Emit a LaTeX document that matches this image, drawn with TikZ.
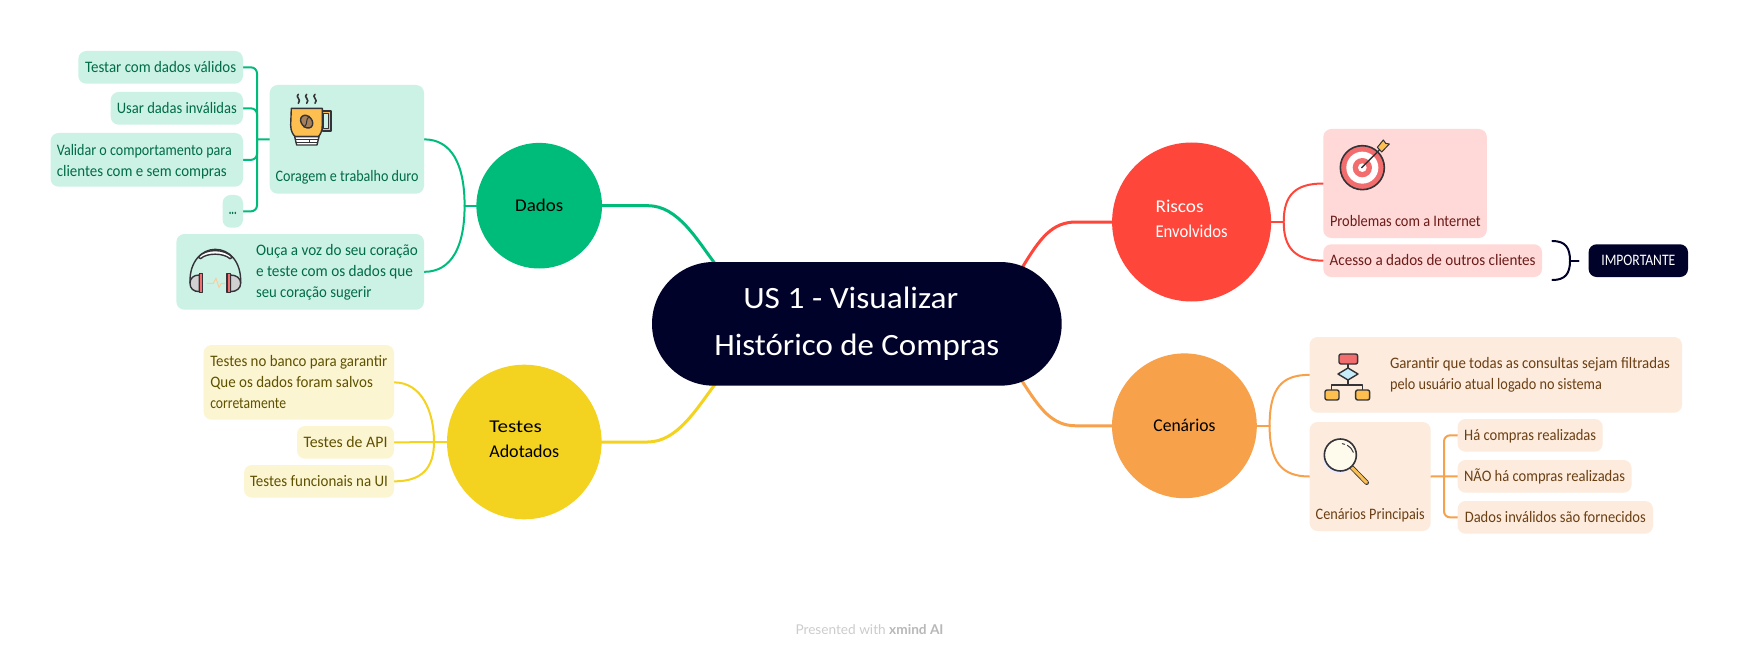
\documentclass[tikz,border=0pt]{standalone}
\usepackage{fontspec}
\usepackage{graphicx}
\setmainfont{Carlito}
\newfontfamily\footfont{Lato}
\usetikzlibrary{backgrounds}
\definecolor{navy}{HTML}{000229}
\definecolor{grn}{HTML}{00BC7B}
\definecolor{grnL}{HTML}{CCF2E5}
\definecolor{grnT}{HTML}{006B46}
\definecolor{yel}{HTML}{F3D31F}
\definecolor{yelL}{HTML}{FCF5D2}
\definecolor{yelT}{HTML}{5E5100}
\definecolor{red1}{HTML}{FF463B}
\definecolor{redL}{HTML}{FFD9D8}
\definecolor{redT}{HTML}{6B1B18}
\definecolor{ora}{HTML}{F7A14B}
\definecolor{oraL}{HTML}{FDECDD}
\definecolor{oraT}{HTML}{6B3F14}
\definecolor{ink}{HTML}{333338}
\definecolor{mugO}{HTML}{FDBF50}
\definecolor{pink1}{HTML}{F26D6D}
\newcommand\tw[2]{\resizebox{#1pt}{\height}{\spaceskip=0pt \xspaceskip=0pt #2}}
\newcommand\bx[7][]{\node[#2,#1,minimum width={(#6-#4)*1pt},minimum height={(#7-#5)*1pt}] (#3) at ({(#4+#6)/2},{(#5+#7)/2})}
\tikzset{
  tbox/.style={rectangle,rounded corners=8pt,inner sep=0pt,outer sep=0pt,text height=13pt,text depth=3pt,font=\fontsize{16}{21}\selectfont},
  gbox/.style={tbox,fill=grnL,text=grnT},
  ybox/.style={tbox,fill=yelL,text=yelT},
  rbox/.style={tbox,fill=redL,text=redT},
  obox/.style={tbox,fill=oraL,text=oraT},
  multi/.style={text height=,text depth=,align=left},
  lbl/.style={inner sep=0pt,outer sep=0pt,font=\fontsize{16}{21}\selectfont},
  topic/.style={circle,inner sep=0pt,outer sep=0pt,align=left,font=\fontsize{18}{25.5}\selectfont},
  rootbox/.style={rectangle,rounded corners=61.8pt,fill=navy,text=white,inner sep=0pt,outer sep=0pt,align=left,font=\fontsize{31}{47}\selectfont},
  main/.style={line width=3pt,line cap=round},
  sub/.style={line width=2pt,line cap=round},
  bent/.style={line width=2pt,rounded corners=6pt,line cap=round},
  ico/.style={draw=ink,line width=1.4pt,line join=round},
  icoline/.style={ink,line width=1.4pt,line cap=round,line join=round},
}
\begin{document}
\begin{tikzpicture}[x=1pt,y=-1pt]
\useasboundingbox (0,0) rectangle (1739,655);

% root and main topics
\node[rootbox,minimum width=409.7pt,minimum height=123.7pt] (root) at (856.85,323.85)
  {\hspace*{29pt}\tw{215}{US 1 - Visualizar}\\\tw{285}{Histórico de Compras}};
\node[topic,fill=grn,minimum size=125.6pt] (dados) at (539.2,205.7) {\tw{48}{Dados}};
\node[topic,fill=yel,minimum size=154.6pt] (testes) at (524.3,442) {\tw{52.4}{Testes}\\\tw{70}{Adotados}\rule[-6pt]{0pt}{0pt}};
\node[topic,fill=red1,text=white,minimum size=159pt] (riscos) at (1191.6,222) {\tw{48}{Riscos}\\\tw{72}{Envolvidos}\rule[-6pt]{0pt}{0pt}};
\node[topic,fill=ora,minimum size=144.8pt] (cenarios) at (1184.4,425.8) {\tw{62}{Cenários}};

% green branch
\bx{gbox}{testar}{78.3}{51}{243}{83.7} {\tw{151}{Testar com dados válidos}};
\bx{gbox}{usar}{110.7}{92}{243}{124.7} {\tw{120}{Usar dadas inválidas}};
\bx[multi,text width=180pt]{gbox}{validar}{50.6}{133}{243}{186.7} {\rule{0pt}{14pt}\tw{175}{Validar o comportamento para}\\\tw{170}{clientes com e sem compras}};
\bx{gbox}{dots}{222.6}{195}{243}{227.7} {\raisebox{2pt}{\tw{8}{\textbf{...}}}};
\bx{gbox}{coragem}{269.7}{85}{424}{193.7} {};
\node[lbl,text=grnT,anchor=base west] (coragemT) at (275.6,182) {\tw{143}{Coragem e trabalho duro}};
\bx{gbox}{fones}{176.4}{234}{424}{309.7} {};
\node[lbl,text=grnT,align=left,anchor=west] (fonesT) at (256,272) {\tw{162}{Ouça a voz do seu coração}\\\tw{157}{e teste com os dados que}\\\tw{115.6}{seu coração sugerir}};

% yellow branch
\bx[multi,text width=177pt]{ybox}{banco}{203.6}{345}{394}{419.7} {\tw{177}{Testes no banco para garantir}\\\tw{162.6}{Que os dados foram salvos}\\\tw{75.8}{corretamente}};
\bx{ybox}{api}{297}{426}{394}{458.7} {\tw{84}{Testes de API}};
\bx{ybox}{func}{244}{465}{394}{497.7} {\tw{138}{Testes funcionais na UI}};

% red branch
\bx{rbox}{internet}{1323.3}{129}{1486.8}{238} {};
\node[lbl,text=redT,anchor=base west] (internetT) at (1330,226) {\tw{150.7}{Problemas com a Internet}};
\bx{rbox}{acesso}{1323.3}{244.3}{1542}{277} {\tw{206}{Acesso a dados de outros clientes}};
\node[rectangle,rounded corners=8pt,fill=navy,text=white,inner sep=0pt,outer sep=0pt,minimum width=99.4pt,minimum height=32.7pt,text height=13pt,text depth=3pt,font=\fontsize{16}{21}\selectfont] (importante) at (1638.3,260.65) {\tw{74}{IMPORTANTE}};

% orange branch
\bx{obox}{garantir}{1309.6}{337}{1682}{412.7} {};
\node[lbl,text=oraT,align=left,anchor=west] (garantirT) at (1390,375) {\tw{280}{Garantir que todas as consultas sejam filtradas}\\\tw{212}{pelo usuário atual logado no sistema}};
\bx{obox}{principais}{1309.6}{422}{1430.7}{531} {};
\node[lbl,text=oraT,anchor=base west] (principaisT) at (1315.7,519) {\tw{109}{Cenários Principais}};
\bx{obox}{ha}{1457.6}{419}{1602.7}{451.7} {\tw{132}{Há compras realizadas}};
\bx{obox}{nao}{1457.6}{460}{1631.5}{492.7} {\tw{161}{NÃO há compras realizadas}};
\bx{obox}{invalidos}{1457.6}{501}{1653}{533.7} {\tw{181}{Dados inválidos são fornecidos}};

% footer
\node[inner sep=0pt,text=black!20,font=\footfont\fontsize{13.5}{16}\selectfont] (rodape) at (869.5,630) {\tw{148}{Presented with \textcolor{black!28}{\textbf{xmind AI}}}};

% free ends of connectors
\coordinate (rootNW) at (716,265);
\coordinate (rootSW) at (716,383);
\coordinate (rootNE) at (1022,268);
\coordinate (rootSE) at (1022,381);
\coordinate (jG) at (464.6,205.7);
\coordinate (jCor) at (257,139.35);
\coordinate (jY) at (434,442);
\coordinate (jR) at (1283.7,222);
\coordinate (jO) at (1269.6,425.8);
\coordinate (jPri) at (1444,476.5);
\coordinate (brTop) at (1552.3,241);
\coordinate (brMid) at (1570,260.65);
\coordinate (brBot) at (1552.3,280);
\coordinate (brEnd) at (1578.7,260.65);

\begin{scope}[on background layer]
  \fill[white] (0,0) rectangle (1739,655);
  % main branches
  \draw[main,grn] (dados.east) -- ++(46,0) .. controls +(30,0) and (697,240) .. (rootNW);
  \draw[main,yel] (testes.east) -- ++(46,0) .. controls +(30,0) and (697,408) .. (rootSW);
  \draw[main,red1] (riscos.west) -- ++(-36,0) .. controls +(-24,0) and (1040,238) .. (rootNE);
  \draw[main,ora] (cenarios.west) -- ++(-36,0) .. controls +(-24,0) and (1040,409) .. (rootSE);
  % green children
  \draw[sub,grn] (dados.west) -- (jG);
  \draw[sub,grn] (coragem.east) .. controls +(28,0) and (464.6,165) .. (jG);
  \draw[sub,grn] (fones.east) .. controls +(28,0) and (464.6,246) .. (jG);
  \draw[bent,grn] (testar.east) -| (jCor) |- (dots.east);
  \draw[bent,grn] (usar.east) -| (jCor);
  \draw[bent,grn] (validar.east) -| (jCor);
  \draw[sub,grn] (coragem.west) -- (jCor);
  % yellow children
  \draw[sub,yel] (testes.west) -- (api.east);
  \draw[sub,yel] (banco.east) .. controls +(28,0) and (434,412) .. (jY);
  \draw[sub,yel] (func.east) .. controls +(28,0) and (434,468) .. (jY);
  % red children
  \draw[sub,red1] (riscos.east) -- (jR);
  \draw[sub,red1] (internet.west) .. controls +(-28,0) and (1283.7,195) .. (jR);
  \draw[sub,red1] (acesso.west) .. controls +(-28,0) and (1283.7,248) .. (jR);
  % orange children
  \draw[sub,ora] (cenarios.east) -- (jO);
  \draw[sub,ora] (garantir.west) .. controls +(-28,0) and (1269.6,388) .. (jO);
  \draw[sub,ora] (principais.west) .. controls +(-28,0) and (1269.6,462) .. (jO);
  \draw[bent,ora] (ha.west) -| (jPri) |- (invalidos.west);
  \draw[sub,ora] (principais.east) -- (nao.west);
  % summary brace
  \draw[sub,navy] (brTop) .. controls +(13,0) and +(0,-13) .. (brMid) .. controls +(0,13) and +(13,0) .. (brBot);
  \draw[sub,navy] (brMid) -- (brEnd);
\end{scope}

% coffee icon
\begin{scope}[shift={(270,85)},x=0.3333pt,y=-0.3333pt]
  \filldraw[ico,fill=mugO] (157,78) -- (183,78) -- (183,138) -- (157,138) -- cycle;
  \filldraw[ico,fill=grnL] (160,86) -- (175,86) -- (175,130) -- (160,130) -- cycle;
  \filldraw[ico,fill=mugO] (64,70) -- (157,70) -- (157,120) .. controls (157,140) and (150,150) .. (145,155) -- (76,155) .. controls (70,150) and (62,140) .. (62,120) -- cycle;
  \filldraw[ico,fill=white] (74,155) -- (147,155) -- (141,180) -- (80,180) -- cycle;
  \draw[icoline,line width=1pt] (76,164) -- (145,164) (78,172) -- (143,172) (118,164) -- (118,172);
  \filldraw[ico,fill=brown!75!black!80,rotate around={40:(110,110)}] (110,110) ellipse [x radius=16,y radius=21];
  \draw[icoline,line width=1pt] (118,94) .. controls (104,105) and (116,115) .. (102,127);
  \foreach \sx in {85,110,135}{
    \draw[icoline,line width=1.6pt] (\sx,28) .. controls (\sx-12,35) and (\sx+12,44) .. (\sx,55);
  }
\end{scope}

% headphones icon
\begin{scope}[shift={(170,230)},x=0.3333pt,y=-0.3333pt]
  \draw[icoline,line width=1.4pt] (60,158) .. controls (58,95) and (95,58) .. (136,58) .. controls (178,58) and (214,95) .. (212,158);
  \filldraw[ico,fill=white] (85,82) .. controls (105,55) and (165,55) .. (187,82) -- (180,86) .. controls (160,68) and (110,68) .. (92,86) -- cycle;
  \filldraw[ico,fill=black!18] (88,135) .. controls (70,135) and (60,145) .. (60,160) .. controls (60,175) and (70,185) .. (88,185) -- cycle;
  \filldraw[ico,fill=pink1] (88,130) rectangle (98,187);
  \filldraw[ico,fill=black!18] (181,135) .. controls (200,135) and (212,145) .. (212,160) .. controls (212,175) and (200,185) .. (181,185) -- cycle;
  \filldraw[ico,fill=pink1] (171,130) rectangle (181,187);
  \draw[line width=1pt,color=oraL!70!orange] (110,160) -- (130,160) -- (138,145) -- (147,172) -- (154,160) -- (165,160);
\end{scope}

% target icon
\begin{scope}[shift={(1320,130)},x=0.3333pt,y=-0.3333pt]
  \filldraw[ico,fill=pink1,line width=1.6pt] (127,113) circle [radius=66];
  \fill[white] (127,113) circle [radius=48];
  \fill[pink1] (127,113) circle [radius=29];
  \fill[white] (127,113) circle [radius=13];
  \draw[icoline] (125,113) -- (180,58);
  \filldraw[ico,fill=mugO,line width=1pt] (172,52) -- (190,30) -- (197,40) -- (208,42) -- (185,66) -- cycle;
\end{scope}

% flowchart icon
\begin{scope}[shift={(1310,345)},x=0.3333pt,y=-0.3333pt]
  \draw[icoline] (114,57) -- (114,120) (65,135) -- (65,120) -- (158,120) -- (158,135);
  \filldraw[ico,fill=pink1,rounded corners=2pt] (87,27) rectangle (143,57);
  \filldraw[ico,fill=cyan!22] (114,69) -- (144,87) -- (114,105) -- (84,87) -- cycle;
  \filldraw[ico,fill=mugO,rounded corners=2pt] (45,135) rectangle (87,165);
  \filldraw[ico,fill=mugO,rounded corners=2pt] (137,135) rectangle (179,165);
\end{scope}

% magnifier icon
\begin{scope}[shift={(1310,430)},x=0.3333pt,y=-0.3333pt]
  \fill[blue!8] (86,82) circle [radius=48];
  \draw[ink,line width=4.6pt,line cap=round] (125,112) -- (170,158);
  \draw[mugO,line width=3pt,line cap=round] (125,112) -- (170,158);
  \filldraw[ico,fill=yelL!40!white,line width=1.6pt] (91,75) circle [radius=48];
  \draw[icoline,line width=1pt] (97,41) -- (104,43) (112,46) .. controls (120,50) and (127,58) .. (130,67);
\end{scope}
\end{tikzpicture}
\end{document}
